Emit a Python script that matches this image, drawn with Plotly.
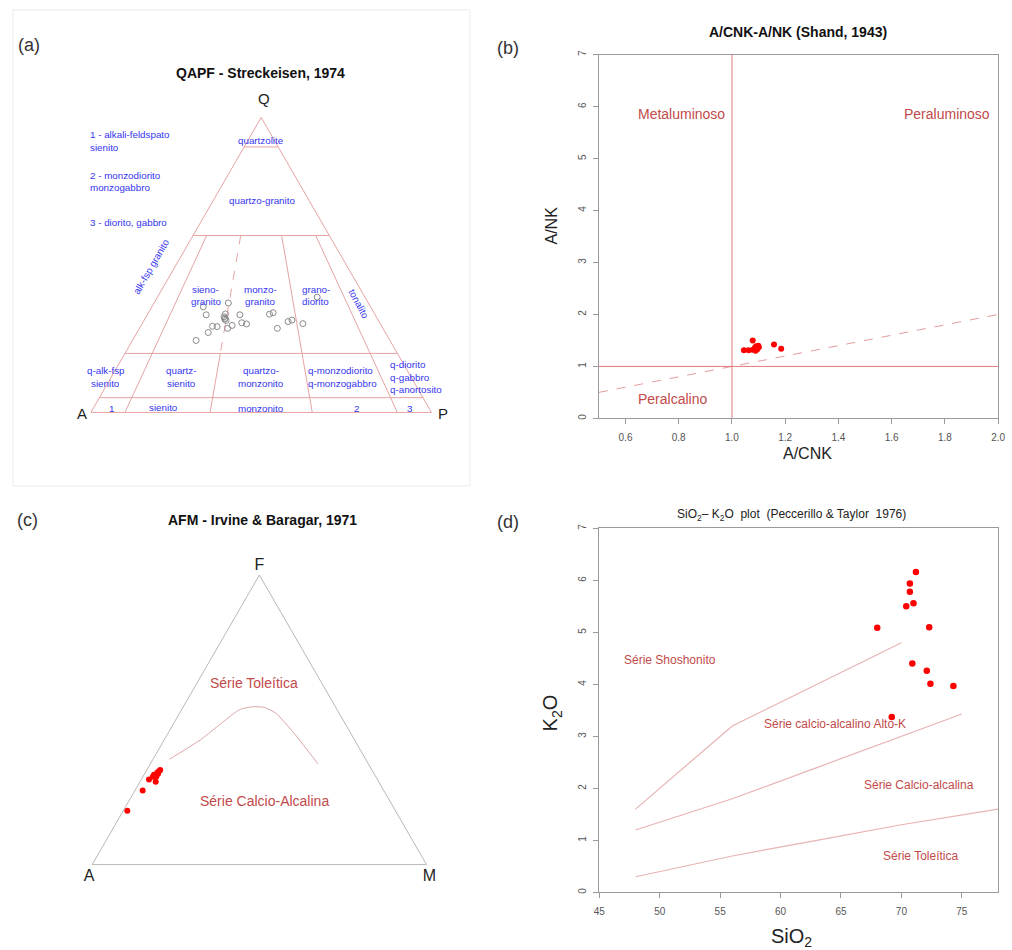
import plotly.graph_objects as go

W, H = 1012, 950
FONT = "Liberation Sans, Arial, sans-serif"
BLUE = "#3535f0"
RED_TXT = "#c24a4a"
PINK = "#e6a3a3"
GRAY_AX = "#9a9a9a"

# ---------------- (a) QAPF data (fractions Q, A, P) ----------------
qapf_Q = [0.358, 0.371, 0.331, 0.334, 0.331, 0.333, 0.338, 0.319, 0.312, 0.316, 0.304, 0.300,
          0.292, 0.291, 0.285, 0.295, 0.271, 0.244, 0.285, 0.308, 0.313, 0.301, 0.391, 0.324]
qapf_A = [0.491, 0.411, 0.496, 0.438, 0.397, 0.309, 0.296, 0.446, 0.447, 0.449, 0.405, 0.393,
          0.497, 0.484, 0.456, 0.438, 0.520, 0.569, 0.310, 0.267, 0.253, 0.227, 0.140, 0.447]
qapf_P = [0.151, 0.218, 0.173, 0.228, 0.272, 0.358, 0.366, 0.235, 0.241, 0.235, 0.291, 0.307,
          0.211, 0.225, 0.259, 0.267, 0.209, 0.187, 0.405, 0.425, 0.434, 0.472, 0.469, 0.229]

# QAPF field boundaries (solid), segments separated by None
qapf_line_Q = [0.90, 0.90, None, 0.60, 0.60, None, 0.20, 0.20, None, 0.05, 0.05, None,
               0.60, 0.00, None, 0.20, 0.00, None, 0.60, 0.00, None, 0.60, 0.00]
qapf_line_A = [0.10, 0.00, None, 0.40, 0.00, None, 0.80, 0.00, None, 0.95, 0.00, None,
               0.36, 0.90, None, 0.52, 0.65, None, 0.14, 0.35, None, 0.04, 0.10]
qapf_line_P = [0.00, 0.10, None, 0.00, 0.40, None, 0.00, 0.80, None, 0.00, 0.95, None,
               0.04, 0.10, None, 0.28, 0.35, None, 0.26, 0.65, None, 0.36, 0.90]
# dashed sieno/monzo-granite boundary
qapf_dash_Q = [0.60, 0.20]
qapf_dash_A = [0.26, 0.52]
qapf_dash_P = [0.14, 0.28]

# ---------------- (b) Shand data ----------------
acnk = [1.045, 1.063, 1.078, 1.079, 1.089, 1.086, 1.091, 1.095, 1.101, 1.099, 1.158, 1.185]
ank = [1.31, 1.31, 1.50, 1.32, 1.30, 1.36, 1.39, 1.33, 1.37, 1.40, 1.42, 1.34]
shand_div_x = [0.5, 2.0]
shand_div_y = [0.5, 2.0]

# ---------------- (c) AFM data (F, A, M) ----------------
afm_F = [0.186, 0.256, 0.294, 0.286, 0.318, 0.327, 0.304, 0.310, 0.322, 0.314, 0.303]
afm_A = [0.802, 0.721, 0.683, 0.667, 0.646, 0.633, 0.656, 0.660, 0.639, 0.646, 0.667]
afm_M = [0.012, 0.023, 0.023, 0.047, 0.036, 0.040, 0.040, 0.030, 0.039, 0.040, 0.030]
ib_F = [0.364, 0.430, 0.535, 0.545, 0.543, 0.523, 0.447, 0.348]
ib_A = [0.587, 0.462, 0.292, 0.247, 0.214, 0.189, 0.168, 0.151]
ib_M = [0.049, 0.108, 0.173, 0.208, 0.243, 0.288, 0.385, 0.501]

# ---------------- (d) Peccerillo & Taylor data ----------------
sio2 = [71.2, 70.7, 70.7, 71.0, 70.4, 68.0, 72.3, 70.9, 72.1, 72.4, 74.3, 69.2]
k2o = [6.16, 5.94, 5.78, 5.56, 5.50, 5.09, 5.10, 4.40, 4.26, 4.01, 3.97, 3.37]
pt_sho_x = [48, 56, 70]
pt_sho_y = [1.6, 3.2, 4.8]
pt_hk_x = [48, 56, 63, 70, 75]
pt_hk_y = [1.2, 1.8, 2.4, 3.0, 3.43]
pt_ca_x = [48, 56, 63, 70, 78]
pt_ca_y = [0.3, 0.7, 1.0, 1.3, 1.6]


def px(x):
    return x / W


def py(y):
    return 1 - y / H


fig = go.Figure()

# (a) traces
fig.add_trace(go.Scatterternary(a=qapf_line_Q, b=qapf_line_A, c=qapf_line_P, mode="lines",
                                line=dict(color=PINK, width=1), subplot="ternary",
                                showlegend=False, hoverinfo="skip"))
fig.add_trace(go.Scatterternary(a=qapf_dash_Q, b=qapf_dash_A, c=qapf_dash_P, mode="lines",
                                line=dict(color=PINK, width=1, dash="dash"), subplot="ternary",
                                showlegend=False, hoverinfo="skip"))
fig.add_trace(go.Scatterternary(a=qapf_Q, b=qapf_A, c=qapf_P, mode="markers",
                                marker=dict(symbol="circle-open", size=6, color="#8a8a8a",
                                            line=dict(width=1, color="#8a8a8a")),
                                subplot="ternary", showlegend=False))

# (c) traces
fig.add_trace(go.Scatterternary(a=ib_F, b=ib_A, c=ib_M, mode="lines",
                                line=dict(color="#dba5a5", width=1, shape="spline", smoothing=0.5),
                                subplot="ternary2", showlegend=False, hoverinfo="skip"))
fig.add_trace(go.Scatterternary(a=afm_F, b=afm_A, c=afm_M, mode="markers",
                                marker=dict(size=6, color="#ff0000"),
                                subplot="ternary2", showlegend=False))

# (b) traces
fig.add_trace(go.Scatter(x=shand_div_x, y=shand_div_y, mode="lines",
                         line=dict(color="#e49a9a", width=1, dash="dash"),
                         xaxis="x", yaxis="y", showlegend=False, hoverinfo="skip"))
fig.add_trace(go.Scatter(x=acnk, y=ank, mode="markers", marker=dict(size=6, color="#ff0000"),
                         xaxis="x", yaxis="y", showlegend=False))

# (d) traces
for xs, ys in [(pt_sho_x, pt_sho_y), (pt_hk_x, pt_hk_y), (pt_ca_x, pt_ca_y)]:
    fig.add_trace(go.Scatter(x=xs, y=ys, mode="lines", line=dict(color="#e8b3b3", width=1.2),
                             xaxis="x2", yaxis="y2", showlegend=False, hoverinfo="skip"))
fig.add_trace(go.Scatter(x=sio2, y=k2o, mode="markers", marker=dict(size=6.5, color="#ff0000"),
                         xaxis="x2", yaxis="y2", showlegend=False))


def tern_axis(color, title=""):
    return dict(showgrid=False, showticklabels=False, ticks="", showline=True,
                linecolor=color, linewidth=1, min=0,
                title=dict(text=title, font=dict(family=FONT, size=16, color="#222222")))


tick_font = dict(family=FONT, size=10, color="#555555")


def cart_axis(**kw):
    d = dict(showline=True, mirror=True, linecolor=GRAY_AX, linewidth=1, showgrid=False,
             zeroline=False, ticks="outside", ticklen=5, tickwidth=1, tickcolor=GRAY_AX,
             tickfont=tick_font, ticklabeloverflow="allow")
    d.update(kw)
    return d


shapes = [
    # border around panel (a)
    dict(type="rect", xref="paper", yref="paper", x0=px(7), x1=px(470), y0=py(484), y1=py(5),
         line=dict(color="#ebebeb", width=1), layer="below"),
    # Shand divisions
    dict(type="line", xref="x", yref="y", x0=1.0, x1=1.0, y0=0, y1=7,
         line=dict(color="#e07a7a", width=1)),
    dict(type="line", xref="x", yref="y", x0=0.5, x1=2.0, y0=1.0, y1=1.0,
         line=dict(color="#e07a7a", width=1)),
]

annotations = []


def ann(text, x, y, size, color="#222222", bold=False, angle=0, xanchor="center", xref="paper", yref="paper"):
    if bold:
        text = "<b>" + text + "</b>"
    if xref == "paper":
        x = px(x)
    if yref == "paper":
        y = py(y)
    annotations.append(dict(text=text, x=x, y=y, xref=xref, yref=yref, showarrow=False,
                            xanchor=xanchor, yanchor="middle", textangle=angle,
                            font=dict(family=FONT, size=size, color=color)))


# panel letters
ann("(a)", 23, 40, 18, "#333333")
ann("(b)", 509, 43, 18, "#333333")
ann("(c)", 22, 518, 18, "#333333")
ann("(d)", 509, 520, 18, "#333333")

# titles
ann("QAPF - Streckeisen, 1974", 258, 68, 14, "#111111", bold=True)
ann("A/CNK-A/NK (Shand, 1943)", 802, 27, 14, "#111111", bold=True)
ann("AFM - Irvine &amp; Baragar, 1971", 260, 518, 14, "#111111", bold=True)
ann("SiO<sub>2</sub>– K<sub>2</sub>O  plot  (Peccerillo &amp; Taylor  1976)", 796, 513, 12, "#222222")

# (a) vertex labels
ann("Q", 261, 94, 15, "#222222")
ann("A", 77, 411, 15, "#222222")
ann("P", 443, 411, 15, "#222222")

# (a) blue field labels
bf = 9.8
ann("1 - alkali-feldspato", 83, 130, bf, BLUE, xanchor="left")
ann("sienito", 83, 143, bf, BLUE, xanchor="left")
ann("2 - monzodiorito", 83, 172, bf, BLUE, xanchor="left")
ann("monzogabbro", 83, 184, bf, BLUE, xanchor="left")
ann("3 - diorito, gabbro", 83, 219, bf, BLUE, xanchor="left")
ann("quartzolite", 258, 136, bf, BLUE)
ann("quartzo-granito", 259, 197, bf, BLUE)
ann("alk-fsp granito", 147, 263, bf, BLUE, angle=-60)
ann("tonalito", 358, 301, bf, BLUE, angle=62)
ann("sieno-", 202, 286, bf, BLUE)
ann("granito", 203, 298, bf, BLUE)
ann("monzo-", 258, 286, bf, BLUE)
ann("granito", 258, 298, bf, BLUE)
ann("grano-", 314, 286, bf, BLUE)
ann("diorito", 314, 298, bf, BLUE)
ann("q-alk-fsp", 101, 368, bf, BLUE)
ann("sienito", 101, 381, bf, BLUE)
ann("quartz-", 178, 368, bf, BLUE)
ann("sienito", 178, 381, bf, BLUE)
ann("quartzo-", 258, 368, bf, BLUE)
ann("monzonito", 258, 381, bf, BLUE)
ann("q-monzodiorito", 339, 368, bf, BLUE)
ann("q-monzogabbro", 341, 381, bf, BLUE)
ann("q-diorito", 387, 362, bf, BLUE, xanchor="left")
ann("q-gabbro", 387, 375, bf, BLUE, xanchor="left")
ann("q-anortosito", 387, 387, bf, BLUE, xanchor="left")
ann("1", 107, 406, bf, BLUE)
ann("sienito", 160, 405, bf, BLUE)
ann("monzonito", 258, 406, bf, BLUE)
ann("2", 355, 406, bf, BLUE)
ann("3", 409, 406, bf, BLUE)

# (b) labels
ann("Metaluminoso", 0.81, 5.85, 14, RED_TXT, xref="x", yref="y")
ann("Peraluminoso", 1.808, 5.85, 14, RED_TXT, xref="x", yref="y")
ann("Peralcalino", 0.777, 0.37, 14, RED_TXT, xref="x", yref="y")
ann("A/CNK", 812, 451, 16, "#222222")
ann("A/NK", 553, 222, 16, "#222222", angle=-90)

# (c) labels
ann("Série Toleítica", 251, 682, 14, RED_TXT)
ann("Série Calcio-Alcalina", 262, 801, 14, RED_TXT)

# (d) labels
ann("Série Shoshonito", 50.85, 4.47, 12, RED_TXT, xref="x2", yref="y2")
ann("Série calcio-alcalino Alto-K", 64.54, 3.24, 12, RED_TXT, xref="x2", yref="y2")
ann("Série Calcio-alcalina", 71.49, 2.06, 12, RED_TXT, xref="x2", yref="y2")
ann("Série Toleítica", 71.6, 0.69, 12, RED_TXT, xref="x2", yref="y2")
ann("SiO<sub>2</sub>", 796, 938, 20, "#222222")
ann("K<sub>2</sub>O", 553, 712, 20, "#222222", angle=-90)

fig.update_layout(
    width=W, height=H, margin=dict(l=0, r=0, t=0, b=0),
    paper_bgcolor="white", plot_bgcolor="white", showlegend=False,
    font=dict(family=FONT),
    ternary=dict(domain=dict(x=[px(86), px(431)], y=[py(411), py(411 - 298.8)]), sum=1,
                 bgcolor="rgba(0,0,0,0)",
                 aaxis=tern_axis(PINK), baxis=tern_axis(PINK), caxis=tern_axis(PINK)),
    ternary2=dict(domain=dict(x=[px(87.3), px(426)], y=[py(866), py(866 - 293.3)]), sum=1,
                  bgcolor="rgba(0,0,0,0)",
                  aaxis=tern_axis("#b8b8b8", "F"), baxis=tern_axis("#b8b8b8", "A"),
                  caxis=tern_axis("#b8b8b8", "M")),
    xaxis=cart_axis(domain=[px(600.6), px(1005)], range=[0.5, 2.0], anchor="y",
                    tickvals=[0.6, 0.8, 1.0, 1.2, 1.4, 1.6, 1.8, 2.0], tickformat=".1f",
                    ticklabelstandoff=5),
    yaxis=cart_axis(domain=[py(416), py(50)], range=[0, 7], anchor="x", dtick=1, tick0=0,
                    tickangle=-90, ticklabelstandoff=3),
    xaxis2=cart_axis(domain=[px(601), px(1005)], range=[45, 78], anchor="y2",
                     tickvals=[45, 50, 55, 60, 65, 70, 75], ticklabelstandoff=5),
    yaxis2=cart_axis(domain=[py(893), py(526.7)], range=[0, 7], anchor="x2", dtick=1, tick0=0,
                     tickangle=-90, ticklabelstandoff=3),
    shapes=shapes,
    annotations=annotations,
)

fig.write_html("out.html")
